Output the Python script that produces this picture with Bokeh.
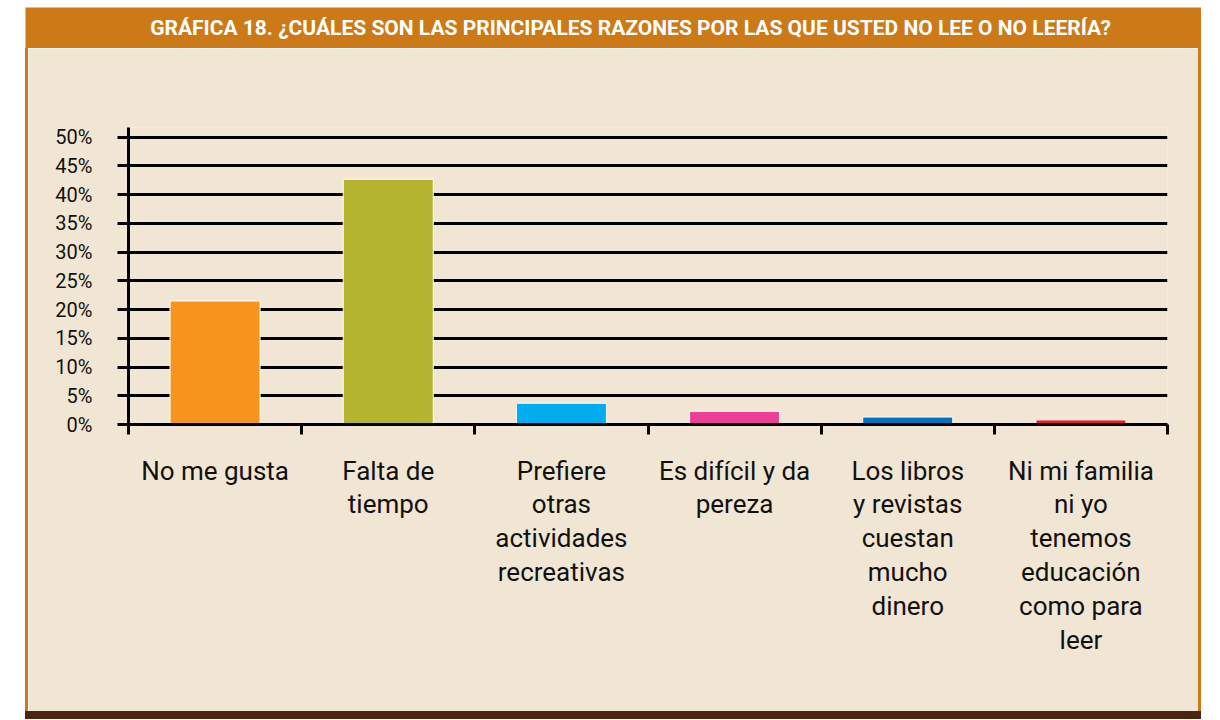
from bokeh.plotting import figure
from bokeh.models import FixedTicker, Range1d, Spacer, Label
from bokeh.layouts import row, column
from bokeh.embed import file_html
from bokeh.resources import INLINE

TITLE = "GRÁFICA 18. ¿CUÁLES SON LAS PRINCIPALES RAZONES POR LAS QUE USTED NO LEE O NO LEERÍA?"
categories = [
    "No me gusta",
    "Falta de\ntiempo",
    "Prefiere\notras\nactividades\nrecreativas",
    "Es difícil y da\npereza",
    "Los libros\ny revistas\ncuestan\nmucho\ndinero",
    "Ni mi familia\nni yo\ntenemos\neducación\ncomo para\nleer",
]
values = [21.5, 42.7, 3.7, 2.3, 1.3, 0.8]
bar_colors = ["#F7941D", "#B5B431", "#00AEEF", "#EE3F96", "#0072BC", "#ED1C24"]
y_ticks = list(range(0, 55, 5))

ORANGE = "#CC7918"
BEIGE = "#F1E6D3"
BROWN = "#4A2511"
FONT = "Roboto"

# --- title bar ---
top = figure(width=1176, height=41, toolbar_location=None,
             output_backend="svg", x_axis_location=None, y_axis_location=None,
             x_range=Range1d(0, 1176), y_range=Range1d(0, 41), min_border=0,
             border_fill_color=ORANGE, background_fill_color=ORANGE,
             outline_line_color=None)
top.xgrid.visible = False
top.ygrid.visible = False
top.add_layout(Label(x=605, y=20.5, text=TITLE, text_color="white",
                     text_font=FONT, text_font_style="bold",
                     text_font_size="21px", text_align="center",
                     text_baseline="middle"))

# --- main chart ---
n = len(categories)
centers = [i + 0.5 for i in range(n)]
bounds = [float(i) for i in range(n + 1)]

p = figure(width=1170, height=663, toolbar_location=None, output_backend="svg",
           x_range=Range1d(0, n), y_range=Range1d(0, 51.7),
           min_border_left=100, min_border_right=31, min_border_top=79,
           min_border_bottom=287,
           border_fill_color=BEIGE, background_fill_color=BEIGE,
           outline_line_color=None)

p.vbar(x=centers, top=values, width=0.52, bottom=0,
       fill_color=bar_colors, line_color="white", line_width=1)

p.xgrid.visible = False
p.ygrid.grid_line_color = "black"
p.ygrid.grid_line_width = 3
p.ygrid.ticker = FixedTicker(ticks=y_ticks)

ya = p.yaxis[0]
ya.ticker = FixedTicker(ticks=y_ticks)
ya.major_label_overrides = {t: f"{t}%" for t in y_ticks}
ya.major_tick_out = 11
ya.major_tick_in = 0
ya.major_tick_line_width = 3
ya.major_tick_line_color = "black"
ya.minor_tick_line_color = None
ya.axis_line_width = 3
ya.axis_line_color = "black"
ya.major_label_standoff = 25
ya.major_label_text_font = FONT
ya.major_label_text_font_size = "20px"
ya.major_label_text_color = "#111111"

xa = p.xaxis[0]
xa.ticker = FixedTicker(ticks=centers, minor_ticks=bounds)
xa.major_label_overrides = {c: lab for c, lab in zip(centers, categories)}
xa.major_tick_out = 0
xa.major_tick_in = 0
xa.minor_tick_out = 10
xa.minor_tick_in = 0
xa.minor_tick_line_width = 3
xa.minor_tick_line_color = "black"
xa.axis_line_width = 3
xa.axis_line_color = "black"
xa.major_label_standoff = 21
xa.major_label_text_font = FONT
xa.major_label_text_font_size = "26px"
xa.major_label_text_color = "#111111"
xa.major_label_text_line_height = 1.13
xa.major_label_orientation = "horizontal"

left_border = Spacer(width=3, height=663, styles={"background-color": ORANGE})
right_border = Spacer(width=3, height=663, styles={"background-color": ORANGE})
bottom_bar = Spacer(width=1176, height=8, styles={"background-color": BROWN})

layout = row(Spacer(width=25, height=10),
             column(Spacer(width=10, height=7), top,
                    row(left_border, p, right_border), bottom_bar))

open("out.html", "w").write(file_html(layout, INLINE))
